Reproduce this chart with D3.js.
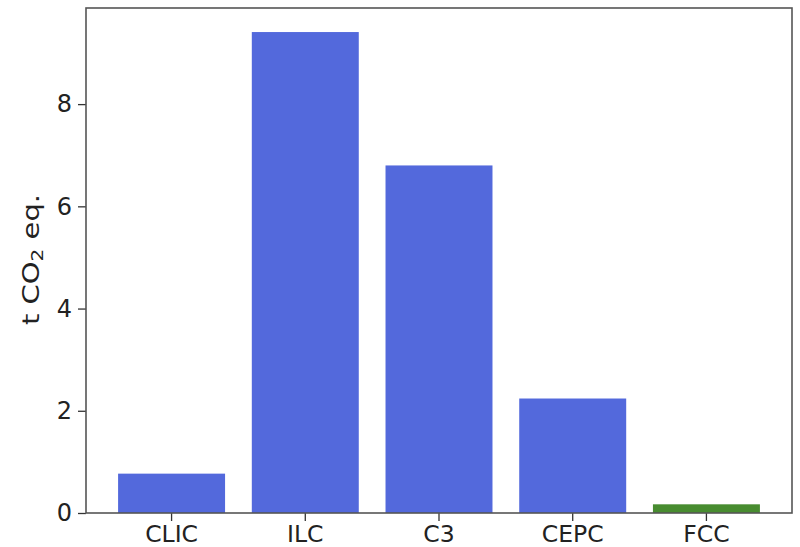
<!DOCTYPE html>
<html>
<head>
<meta charset="utf-8">
<script src="https://cdn.jsdelivr.net/npm/d3@7/dist/d3.min.js"></script>
<style>
  html, body { margin: 0; padding: 0; background: #fff; }
  svg { display: block; }
  text { font-family: "DejaVu Sans", sans-serif; fill: #222; }
</style>
</head>
<body>
<svg id="chart" width="800" height="547"></svg>
<script>
// Emissions per collider, tonnes CO2 equivalent
const colliders = ["CLIC", "ILC", "C3", "CEPC", "FCC"];
const emissions = [0.77, 9.41, 6.80, 2.24, 0.17];
const barColors = ["#5369dc", "#5369dc", "#5369dc", "#5369dc", "#488c30"];
const yTicks = [0, 2, 4, 6, 8];

const margin = { left: 86, right: 8, top: 8, bottom: 34 };
const W = 800, H = 547;
const svg = d3.select("#chart");

const x = d3.scaleBand()
  .domain(colliders)
  .range([margin.left, W - margin.right])
  .paddingInner(0.2)
  .paddingOuter(0.24);

const y = d3.scaleLinear()
  .domain([0, d3.max(emissions) * 1.05])
  .range([H - margin.bottom, margin.top]);

// bars
svg.append("g")
  .selectAll("rect")
  .data(colliders)
  .join("rect")
  .attr("x", d => x(d))
  .attr("width", x.bandwidth())
  .attr("y", (d, i) => y(emissions[i]))
  .attr("height", (d, i) => y(0) - y(emissions[i]))
  .attr("fill", (d, i) => barColors[i]);

// x axis
const xAxis = svg.append("g")
  .attr("transform", `translate(0,${H - margin.bottom})`)
  .call(d3.axisBottom(x).tickSize(8).tickPadding(4).tickSizeOuter(0));
xAxis.select(".domain").remove();
xAxis.selectAll(".tick line").attr("stroke", "#333").attr("stroke-width", 1.3);
xAxis.selectAll(".tick text")
  .attr("font-size", 23.5)
  .attr("font-family", "DejaVu Sans, sans-serif")
  .attr("fill", "#222");

// y axis
const yAxis = svg.append("g")
  .attr("transform", `translate(${margin.left},0)`)
  .call(d3.axisLeft(y).tickValues(yTicks).tickFormat(d3.format("d")).tickSize(8).tickPadding(6));
yAxis.select(".domain").remove();
yAxis.selectAll(".tick line").attr("stroke", "#333").attr("stroke-width", 1.3);
yAxis.selectAll(".tick text")
  .attr("font-size", 24)
  .attr("font-family", "DejaVu Sans, sans-serif")
  .attr("fill", "#222");

// frame around the plot area
svg.append("rect")
  .attr("x", margin.left)
  .attr("y", margin.top)
  .attr("width", W - margin.right - margin.left)
  .attr("height", H - margin.bottom - margin.top)
  .attr("fill", "none")
  .attr("stroke", "#555")
  .attr("stroke-width", 1.6);

// y axis title
const yl = svg.append("text")
  .attr("transform", "translate(38.5,259.5) rotate(-90) scale(1,0.8)")
  .attr("text-anchor", "middle")
  .attr("font-size", 29);
yl.append("tspan").text("t CO");
yl.append("tspan").attr("font-size", 20).attr("dy", 6).text("2");
yl.append("tspan").attr("dy", -6).text(" eq.");
</script>
</body>
</html>
